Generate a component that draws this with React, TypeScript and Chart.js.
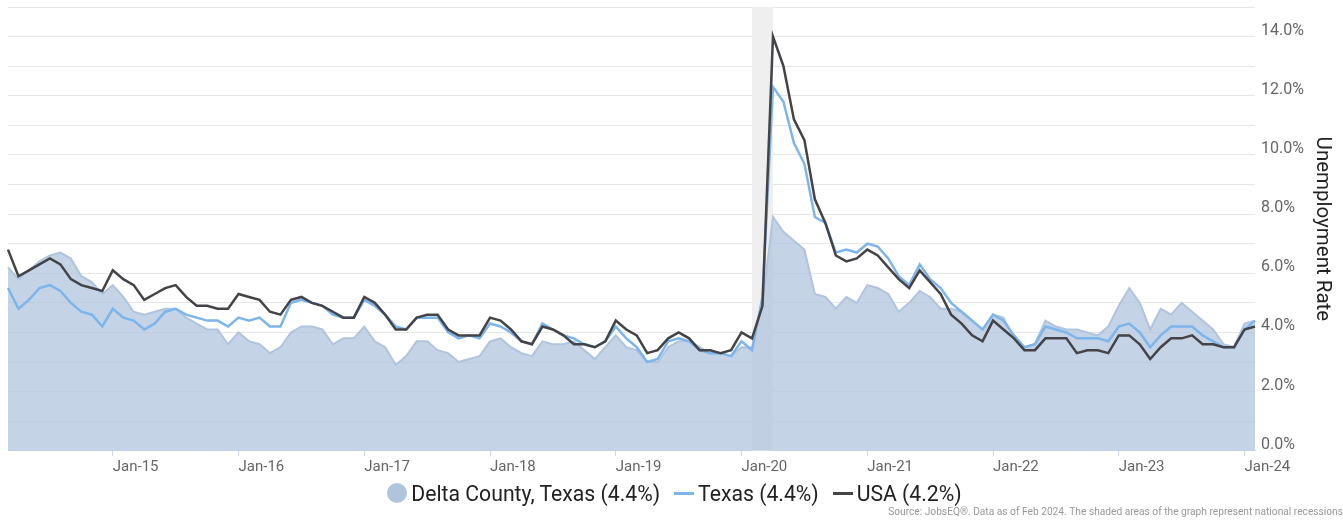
import React, { useEffect, useRef } from 'react';
import { Chart, registerables } from 'chart.js';

Chart.register(...registerables);

// Monthly categories: Mar 2014 .. Feb 2024
const MONTH_NAMES = ['Jan', 'Feb', 'Mar', 'Apr', 'May', 'Jun', 'Jul', 'Aug', 'Sep', 'Oct', 'Nov', 'Dec'];
const START_YEAR = 2014;
const START_MONTH = 2; // March (0-based)
const MONTH_COUNT = 120;
const categories: string[] = [];
for (let k = 0; k < MONTH_COUNT; k++) {
  const m = (START_MONTH + k) % 12;
  const y = START_YEAR + Math.floor((START_MONTH + k) / 12);
  categories.push(`${MONTH_NAMES[m]}-${String(y % 100).padStart(2, '0')}`);
}

const deltaCounty = [
  6.2, 5.8, 6.1, 6.4, 6.6, 6.7, 6.5, 5.9, 5.7, 5.3,
  5.6, 5.2, 4.7, 4.6, 4.7, 4.8, 4.8, 4.5, 4.3, 4.1,
  4.1, 3.6, 4.0, 3.7, 3.6, 3.3, 3.5, 4.0, 4.2, 4.2,
  4.1, 3.6, 3.8, 3.8, 4.2, 3.7, 3.5, 2.9, 3.2, 3.7,
  3.7, 3.4, 3.3, 3.0, 3.1, 3.2, 3.7, 3.8, 3.5, 3.3,
  3.2, 3.7, 3.6, 3.6, 3.7, 3.4, 3.1, 3.5, 3.9, 3.5,
  3.4, 3.0, 3.0, 3.5, 3.7, 3.7, 3.5, 3.3, 3.3, 3.2,
  3.5, 3.5, 5.0, 7.9, 7.4, 7.1, 6.8, 5.3, 5.2, 4.8,
  5.2, 5.0, 5.6, 5.5, 5.3, 4.7, 5.0, 5.4, 5.2, 4.8,
  4.8, 4.7, 4.4, 4.1, 4.6, 4.5, 3.8, 3.5, 3.6, 4.4,
  4.2, 4.1, 4.1, 4.0, 3.9, 4.2, 4.9, 5.5, 5.0, 4.1,
  4.8, 4.6, 5.0, 4.7, 4.4, 4.1, 3.6, 3.5, 4.3, 4.4,
];

const texas = [
  5.5, 4.8, 5.1, 5.5, 5.6, 5.4, 5.0, 4.7, 4.6, 4.2,
  4.8, 4.5, 4.4, 4.1, 4.3, 4.7, 4.8, 4.6, 4.5, 4.4,
  4.4, 4.2, 4.5, 4.4, 4.5, 4.2, 4.2, 5.0, 5.1, 5.0,
  4.9, 4.6, 4.5, 4.5, 5.1, 4.9, 4.6, 4.2, 4.1, 4.5,
  4.5, 4.5, 4.0, 3.8, 3.9, 3.8, 4.3, 4.2, 4.0, 3.7,
  3.6, 4.3, 4.1, 3.9, 3.8, 3.6, 3.5, 3.7, 4.2, 3.8,
  3.5, 3.0, 3.1, 3.7, 3.8, 3.7, 3.4, 3.3, 3.3, 3.2,
  3.7, 3.4, 5.2, 12.3, 11.8, 10.4, 9.7, 7.9, 7.7, 6.7,
  6.8, 6.7, 7.0, 6.9, 6.5, 5.9, 5.6, 6.3, 5.8, 5.5,
  5.0, 4.7, 4.4, 4.1, 4.6, 4.4, 3.9, 3.5, 3.6, 4.2,
  4.1, 4.0, 3.8, 3.8, 3.8, 3.7, 4.2, 4.3, 4.0, 3.5,
  3.9, 4.2, 4.2, 4.2, 3.9, 3.7, 3.5, 3.5, 4.1, 4.4,
];

const usa = [
  6.8, 5.9, 6.1, 6.3, 6.5, 6.3, 5.8, 5.6, 5.5, 5.4,
  6.1, 5.8, 5.6, 5.1, 5.3, 5.5, 5.6, 5.2, 4.9, 4.9,
  4.8, 4.8, 5.3, 5.2, 5.1, 4.7, 4.6, 5.1, 5.2, 5.0,
  4.9, 4.7, 4.5, 4.5, 5.2, 5.0, 4.6, 4.1, 4.1, 4.5,
  4.6, 4.6, 4.1, 3.9, 3.9, 3.9, 4.5, 4.4, 4.1, 3.7,
  3.6, 4.2, 4.1, 3.9, 3.6, 3.6, 3.5, 3.7, 4.4, 4.1,
  3.9, 3.3, 3.4, 3.8, 4.0, 3.8, 3.4, 3.4, 3.3, 3.4,
  4.0, 3.8, 4.9, 14.0, 13.0, 11.2, 10.5, 8.5, 7.7, 6.6,
  6.4, 6.5, 6.8, 6.6, 6.2, 5.8, 5.5, 6.1, 5.7, 5.3,
  4.6, 4.3, 3.9, 3.7, 4.4, 4.1, 3.8, 3.4, 3.4, 3.8,
  3.8, 3.8, 3.3, 3.4, 3.4, 3.3, 3.9, 3.9, 3.6, 3.1,
  3.5, 3.8, 3.8, 3.9, 3.6, 3.6, 3.5, 3.5, 4.1, 4.2,
];

const seriesNames = ['Delta County, Texas', 'Texas', 'USA'];
const recessions: [string, string][] = [['Feb-20', 'Apr-20']];
const yTickValues = [0, 2, 4, 6, 8, 10, 12, 14];
const sourceText = 'Source: JobsEQ®. Data as of Feb 2024. The shaded areas of the graph represent national recessions';

const DELTA_COLOR = '#b0c4de';
const TEXAS_COLOR = '#7cb5ec';
const USA_COLOR = '#434348';
const seriesColors = [DELTA_COLOR, TEXAS_COLOR, USA_COLOR];
const seriesData = [deltaCounty, texas, usa];

const recessionPlugin = {
  id: 'recessionBands',
  beforeDatasetsDraw(chart: any) {
    const { ctx, chartArea, scales } = chart;
    const x = scales.x;
    ctx.save();
    ctx.fillStyle = '#efefef';
    for (const [a, b] of recessions) {
      const x0 = x.getPixelForValue(categories.indexOf(a));
      const x1 = x.getPixelForValue(categories.indexOf(b));
      ctx.fillRect(x0, chartArea.top, x1 - x0, chartArea.bottom - chartArea.top);
    }
    ctx.restore();
  },
};

function Legend() {
  return (
    <div
      style={{
        position: 'absolute',
        left: 3,
        top: 479,
        width: 1343,
        height: 28,
        display: 'flex',
        alignItems: 'center',
        justifyContent: 'center',
        fontFamily: 'Roboto',
        fontSize: 21.2,
        color: '#222',
        whiteSpace: 'nowrap',
      }}
    >
      {seriesNames.map((name, i) => {
        const last = seriesData[i][seriesData[i].length - 1];
        const isArea = i === 0;
        return (
          <div key={name} style={{ display: 'flex', alignItems: 'center', marginLeft: i === 0 ? 0 : 14 }}>
            <span
              style={{
                display: 'inline-block',
                width: 20,
                height: isArea ? 20 : 3,
                borderRadius: isArea ? '50%' : 0,
                background: seriesColors[i],
                marginRight: 4,
              }}
            />
            <span>{`${name} (${last.toFixed(1)}%)`}</span>
          </div>
        );
      })}
    </div>
  );
}

export default function App() {
  const canvasRef = useRef<HTMLCanvasElement | null>(null);

  useEffect(() => {
    if (!canvasRef.current) return;
    Chart.defaults.font.family = 'Roboto';
    const chart = new Chart(canvasRef.current, {
      type: 'line',
      data: {
        labels: categories,
        datasets: [
          {
            label: seriesNames[0],
            data: deltaCounty,
            borderColor: DELTA_COLOR,
            backgroundColor: 'rgba(176,196,222,0.75)',
            borderWidth: 2,
            fill: 'origin',
            pointRadius: 0,
            order: 3,
          },
          {
            label: seriesNames[1],
            data: texas,
            borderColor: TEXAS_COLOR,
            backgroundColor: TEXAS_COLOR,
            borderWidth: 2.5,
            fill: false,
            pointRadius: 0,
            order: 2,
          },
          {
            label: seriesNames[2],
            data: usa,
            borderColor: USA_COLOR,
            backgroundColor: USA_COLOR,
            borderWidth: 2.5,
            fill: false,
            pointRadius: 0,
            order: 1,
          },
        ],
      },
      options: {
        responsive: false,
        animation: false,
        layout: { padding: { left: 8, top: 7, right: 0, bottom: 3 } },
        plugins: {
          tooltip: { enabled: false },
          legend: { display: false },
          subtitle: {
            display: true,
            position: 'bottom',
            align: 'end',
            text: sourceText,
            color: '#999',
            font: { size: 10.2, family: 'Roboto' },
            padding: { top: -6, bottom: 0 },
          },
        },
        scales: {
          x: {
            type: 'category',
            offset: false,
            afterFit: (scale: any) => {
              scale.height = 62;
              scale.paddingLeft = 0;
              scale.paddingRight = 0;
            },
            grid: {
              drawOnChartArea: false,
              drawTicks: true,
              tickLength: 5,
              color: '#ccd6eb',
            },
            border: { display: true, color: '#ccd6eb' },
            ticks: {
              autoSkip: false,
              maxRotation: 0,
              align: 'start',
              color: '#666',
              padding: 2,
              font: { size: 15, family: 'Roboto' },
              callback: function (this: any, value: any) {
                const lab = this.getLabelForValue(value) as string;
                return lab.startsWith('Jan') ? lab : null;
              },
            },
          },
          y: {
            position: 'right',
            min: 0,
            max: 15,
            afterFit: (scale: any) => {
              scale.width = 88;
              scale.paddingTop = 0;
              scale.paddingBottom = 0;
            },
            grid: { color: '#e6e6e6', drawTicks: false },
            border: { display: false },
            ticks: {
              stepSize: 1,
              padding: 6,
              labelOffset: -6,
              color: '#666',
              font: { size: 16, family: 'Roboto' },
              callback: (v: any) => (yTickValues.includes(Number(v)) ? `${Number(v).toFixed(1)}%` : ''),
            },
            title: {
              display: true,
              text: 'Unemployment Rate',
              color: '#222',
              font: { size: 20.5, family: 'Roboto' },
              padding: { top: 9, bottom: 0 },
            },
          },
        },
      },
      plugins: [recessionPlugin],
    });
    return () => chart.destroy();
  }, []);

  return (
    <div style={{ position: 'fixed', left: 0, top: 0, width: 1343, height: 522, background: '#fff' }}>
      <canvas ref={canvasRef} width={1343} height={522} style={{ width: 1343, height: 522, display: 'block' }} />
      <Legend />
    </div>
  );
}
